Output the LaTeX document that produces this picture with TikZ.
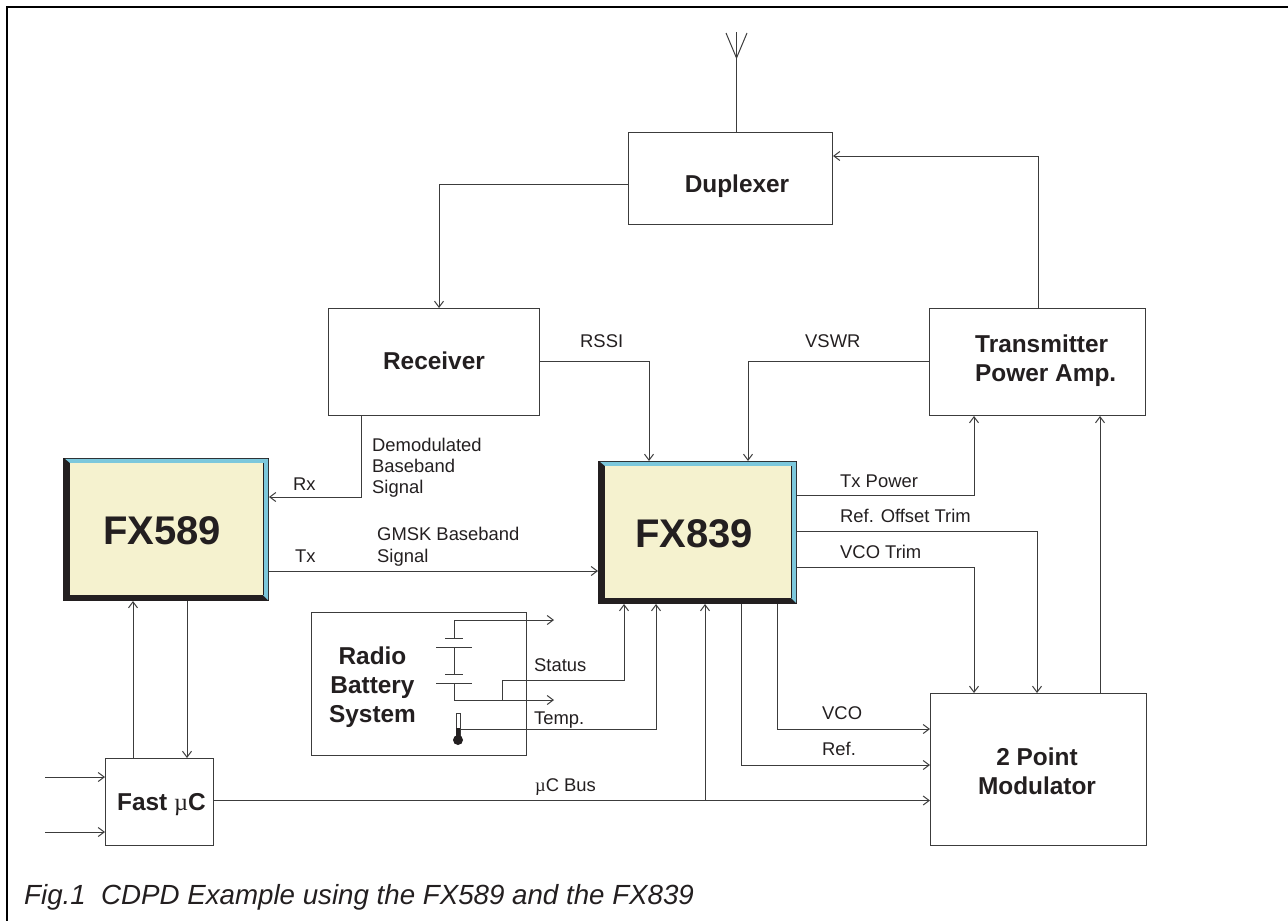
\documentclass[tikz,border=0pt]{standalone}
\usepackage{fontspec}
\setmainfont{Liberation Sans}
\newfontfamily\symfont{Liberation Serif}
\definecolor{chipfill}{HTML}{F5F2CF}
\definecolor{chipblue}{HTML}{7CC8DC}
\definecolor{chipdark}{HTML}{231F20}
\definecolor{linegrey}{HTML}{3C3C3C}
\usetikzlibrary{arrows.meta}
\tikzset{
  x=1pt,y=-1pt,
  every node/.style={font=\fontsize{18.4}{21}\selectfont,text=chipdark,inner sep=0pt},
  blockbox/.style={draw=linegrey,line width=1pt,fill=white,anchor=north west,inner sep=0pt},
  blocktext/.style={font=\fontsize{24.4}{29}\selectfont\bfseries,anchor=base,align=center},
  labeltext/.style={anchor=base west,align=left},
  wire/.style={draw=linegrey,line width=1pt},
  arr/.style={wire,-{Straight Barb[length=6pt,width=9pt,line width=1pt]}},
  chipnode/.style={minimum height=143pt,outer sep=0pt},
  chiptext/.style={font=\fontsize{40}{48}\selectfont\bfseries},
  plate/.style={draw=linegrey,line width=1pt},
}
\newcommand{\chipbody}[4]{% x0 y0 x1 y1
  \fill[chipdark] (#1,#2) rectangle (#3,#4);
  \fill[chipblue] (#1+2,#2+0.8) -- (#3-0.8,#2+0.8) -- (#3-0.8,#4-0.8) -- (#3-6,#4-6) -- (#3-6,#2+5) -- (#1+7,#2+5) -- cycle;
  \fill[chipfill] (#1+7,#2+5) rectangle (#3-6,#4-6);
  \draw[chipdark,line width=0.7pt] (#3-6,#2+5) -- (#3-6,#4-6);
}
\begin{document}
\begin{tikzpicture}
\useasboundingbox (0,0) rectangle (1288,921);
% frame
\coordinate (fa) at (7,921);
\coordinate (fb) at (7,7);
\coordinate (fc) at (1288,7);
\draw[black,line width=2.6pt] (fa) -- (fb) -- (fc);

% chips
\chipbody{63}{458}{269}{601}
\chipbody{598}{461}{797}{604}
\node[chipnode,minimum width=206pt] (fxa) at (166,529.5) {};
\node[chipnode,minimum width=199pt] (fxb) at (697.5,532.5) {};
\node[chiptext] (fxat) at (162,531) {FX589};
\node[chiptext] (fxbt) at (694,534) {FX839};

% blocks
\node[blockbox,minimum width=204pt,minimum height=92pt] (dup) at (628,132) {};
\node[blockbox,minimum width=211pt,minimum height=107pt] (rx) at (328,308) {};
\node[blockbox,minimum width=216pt,minimum height=107pt] (pa) at (929,308) {};
\node[blockbox,minimum width=216pt,minimum height=152pt] (mod) at (930,693) {};
\node[blockbox,minimum width=215pt,minimum height=143pt] (bat) at (311,612) {};
\node[blockbox,minimum width=108pt,minimum height=87pt] (uc) at (105,758) {};
\node[blocktext] (dupt) at (737,192) {Duplexer};
\node[blocktext] (rxt) at (434,369) {Receiver};
\node[blocktext,anchor=base west,align=left] (pat) at (975,381) {Transmitter\\Power Amp.};
\node[blocktext] (modt) at (1037,794) {2 Point\\Modulator};
\node[blocktext] (batt) at (372.5,722) {Radio\\Battery\\System};
\node[blocktext] (uct) at (161.5,810) {Fast {\symfont\mdseries µ}C};

% antenna
\coordinate (anttop) at (736.5,32);
\coordinate (antfork) at (736.5,58);
\coordinate (antl) at (726,33);
\coordinate (antr) at (747,33);
\draw[wire] (dup.north -| anttop) -- (anttop);
\draw[wire] (antl) -- (antfork) -- (antr);

% main connectors
\draw[arr] (dup.west |- 0,184) -| (rx.north -| 439,0);
\draw[arr] (pa.north -| 1038,0) |- (dup.east |- 0,156);
\draw[arr] (rx.east |- 0,361) -| (fxb.north -| 649,0);
\draw[arr] (pa.west |- 0,361) -| (fxb.north -| 748,0);
\draw[arr] (rx.south -| 361,0) |- (fxa.east |- 0,497);
\draw[arr] (fxa.east |- 0,571) -- (fxb.west |- 0,571);
\draw[arr] (uc.north -| 133,0) -- (fxa.south -| 133,0);
\draw[arr] (fxa.south -| 187,0) -- (uc.north -| 187,0);
\draw[arr] (fxb.east |- 0,495.5) -| (pa.south -| 974,0);
\draw[arr] (fxb.east |- 0,531.5) -| (mod.north -| 1037,0);
\draw[arr] (fxb.east |- 0,567) -| (mod.north -| 974,0);
\draw[arr] (mod.north -| 1100,0) -- (pa.south -| 1100,0);
\draw[arr] (fxb.south -| 777,0) |- (mod.west |- 0,729);
\draw[arr] (fxb.south -| 741,0) |- (mod.west |- 0,765);
\draw[arr] (uc.east |- 0,800.5) -- (mod.west |- 0,800.5);
\coordinate (busj) at (705,800.5);
\draw[arr] (busj) -- (fxb.south -| busj);
\coordinate (ina) at (45,777);
\coordinate (inb) at (45,832);
\draw[arr] (ina) -- (uc.west |- ina);
\draw[arr] (inb) -- (uc.west |- inb);

% battery
\coordinate (bp) at (454,638);
\coordinate (bm) at (454,683);
\coordinate (outa) at (554,620);
\coordinate (outb) at (554,700);
\coordinate (stj) at (502,700);
\draw[arr] (bp) |- (outa);
\draw[arr] (bm) |- (outb);
\draw[arr] (stj) |- (624,680) -- (fxb.south -| 624,0);
\draw[wire] (454,647) -- (454,674);
\draw[plate] (445,638) -- (463,638);
\draw[plate] (436,647) -- (472,647);
\draw[plate] (445,674) -- (463,674);
\draw[plate] (436,683) -- (472,683);
% thermometer
\coordinate (thb) at (458,740);
\draw[arr] (458,729.5) -| (fxb.south -| 656,0);
\draw[linegrey,line width=0.8pt,fill=white] (456,713.5) rectangle (460,735);
\fill[chipdark] (thb) circle (5);
\fill[chipdark] (456,728) rectangle (460,736);

% labels
\node[labeltext] (lrssi) at (580,347) {RSSI};
\node[labeltext] (lvswr) at (805,347) {VSWR};
\node[labeltext] (ld1) at (372,451) {Demodulated};
\node[labeltext] (ld2) at (372,472) {Baseband};
\node[labeltext] (ld3) at (372,493) {Signal};
\node[labeltext] (lrx) at (293,490) {Rx};
\node[labeltext] (ltx) at (295,562) {Tx};
\node[labeltext] (lg1) at (377,540) {GMSK Baseband};
\node[labeltext] (lg2) at (377,562) {Signal};
\node[labeltext] (ltp) at (840,487) {Tx Power};
\node[labeltext] (lrt) at (840,522) {Ref. Offset Trim};
\node[labeltext] (lvt) at (840,558) {VCO Trim};
\node[labeltext] (lvco) at (822,719.5) {VCO};
\node[labeltext] (lref) at (822,755) {Ref.};
\node[labeltext] (lbus) at (535,791) {{\symfont µ}C Bus};
\node[labeltext] (lst) at (534,671) {Status};
\node[labeltext] (ltm) at (534,724) {Temp.};
\node[anchor=base west,font=\fontsize{27.7}{32}\selectfont\itshape] (cap) at (24,904) {Fig.1\ \ CDPD Example using the FX589 and the FX839};
\end{tikzpicture}
\end{document}
